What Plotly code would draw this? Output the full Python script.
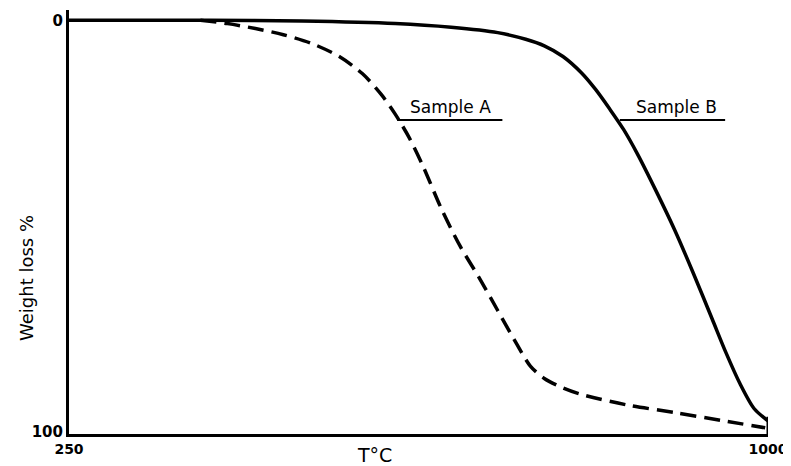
import plotly.graph_objects as go

# Sample B (solid) — temperature (°C) vs weight loss (%)
temp_b = [250, 400, 500, 600, 660, 710, 740, 760, 780, 800, 815, 830, 845, 860, 880, 900, 920, 940, 955, 970, 985, 1000]
loss_b = [0, 0, 0.2, 0.8, 1.7, 3.0, 4.6, 6.2, 8.8, 12.8, 16.8, 21.5, 26.5, 32.5, 41.5, 51, 61.5, 72.5, 80.8, 88.3, 94.3, 97.3]

# Sample A (dashed)
temp_a = [391, 420, 450, 480, 510, 540, 565, 585, 600, 615, 630, 650, 670, 690, 710, 730, 745, 760, 780, 800, 850, 900, 950, 997]
loss_a = [0, 0.8, 2.0, 3.5, 5.6, 8.8, 13.0, 18.0, 22.8, 28.5, 35.5, 46, 55, 62.5, 70.5, 78.5, 84, 87, 89.3, 90.9, 93.5, 95.3, 97.2, 99.0]

x_ticks = [250, 1000]
y_ticks = [0, 100]
x_title = "T°C"
y_title = "Weight loss %"
label_a = "Sample A"
label_b = "Sample B"

# page has an 8px body margin; size the figure so it fits the 791x466 window
OFF = 8
W, H = 791 - OFF, 466 - OFF
L, R, T, B = 69 - OFF, 23, 10 - OFF, 32
pw, ph = W - L - R, H - T - B


def px_to_paper(px, py):
    return (px - OFF - L) / pw, (H - B - (py - OFF)) / ph


fig = go.Figure()
fig.add_trace(go.Scatter(x=temp_a, y=loss_a, mode="lines", name=label_a,
                         line=dict(color="black", width=3.5, dash="16px,8px", shape="spline", smoothing=0.8)))
fig.add_trace(go.Scatter(x=temp_b, y=loss_b, mode="lines", name=label_b,
                         line=dict(color="black", width=3.5, shape="spline", smoothing=0.8)))

# leader underlines for the labels
fig.add_shape(type="line", x0=602, x1=715, y0=24.2, y1=24.2, line=dict(color="black", width=2))
fig.add_shape(type="line", x0=841, x1=954, y0=24.2, y1=24.2, line=dict(color="black", width=2))
# end tick at 1000
fig.add_shape(type="line", x0=1000, x1=1000, y0=96.3, y1=100.7, line=dict(color="black", width=3))

fig.add_annotation(x=659, y=24.2, text=label_a, showarrow=False, xanchor="center", yanchor="bottom", yshift=1,
                   font=dict(family="DejaVu Sans", size=17, color="black"))
fig.add_annotation(x=902, y=24.2, text=label_b, showarrow=False, xanchor="center", yanchor="bottom", yshift=1,
                   font=dict(family="DejaVu Sans", size=17, color="black"))

yx, yy = px_to_paper(26, 278)
fig.add_annotation(x=yx, y=yy, xref="paper", yref="paper", text=y_title, textangle=-90,
                   xanchor="center", yanchor="middle",
                   showarrow=False, font=dict(family="DejaVu Sans", size=18, color="black"))
tx, ty = px_to_paper(374, 455)
fig.add_annotation(x=tx, y=ty, xref="paper", yref="paper", text=x_title,
                   xanchor="center", yanchor="middle",
                   showarrow=False, font=dict(family="DejaVu Sans", size=19, color="black"))

fig.update_layout(
    template="none",
    width=W, height=H,
    margin=dict(l=L, r=R, t=T, b=B, pad=0, autoexpand=False),
    paper_bgcolor="white", plot_bgcolor="white",
    showlegend=False,
    font=dict(family="DejaVu Sans", color="black"),
)

fig.update_xaxes(range=[250, 1000], tickvals=x_ticks, ticktext=["<b>%d</b>" % v for v in x_ticks],
                 automargin=False, showgrid=False, zeroline=False, showline=True,
                 linecolor="black", linewidth=3, ticks="",
                 tickfont=dict(family="DejaVu Sans", size=14, color="black"))
fig.update_yaxes(range=[100.5, -2.5], tickvals=y_ticks, ticktext=["<b>%d</b>" % v for v in y_ticks],
                 automargin=False, showgrid=False, zeroline=False, showline=True,
                 linecolor="black", linewidth=3, ticks="",
                 tickfont=dict(family="DejaVu Sans", size=15, color="black"))

fig.write_html("out.html")
